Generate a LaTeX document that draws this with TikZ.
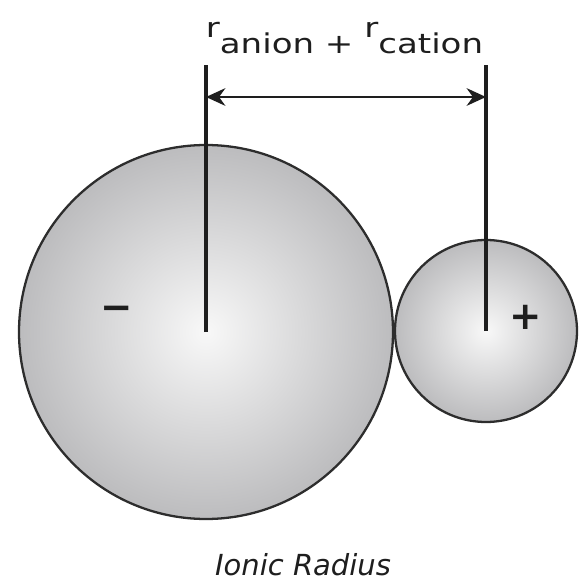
\documentclass[tikz,border=0pt]{standalone}
\usepackage{fontspec}
\setmainfont{DejaVu Sans}
\newfontfamily\widefont[FakeStretch=1.25]{DejaVu Sans}
\usepackage{tikz}
\usetikzlibrary{arrows.meta,positioning,calc}
\usepackage{xcolor}
\definecolor{cEdge}{RGB}{45,45,45}
\definecolor{cInner}{RGB}{248,248,248}
\definecolor{cOuter}{RGB}{188,188,190}
\definecolor{cInk}{RGB}{30,30,30}
\tikzset{
  ionball/.style={circle,draw=cEdge,line width=1.3pt,inner sep=0pt,
                  shading=radial,inner color=cInner,outer color=cOuter},
  radline/.style={line width=1.8pt,color=cInk},
  dimarr/.style={{Stealth[length=11pt,width=10pt]}-{Stealth[length=11pt,width=10pt]},
                 line width=1.5pt,color=cInk},
  chargelbl/.style={font=\bfseries\fontsize{22}{22}\selectfont,text=cInk,inner sep=0pt},
  sumlbl/.style={font=\widefont\fontsize{15.5}{16}\selectfont,text=cInk,inner sep=0pt},
  capt/.style={font=\itshape\fontsize{16.5}{17}\selectfont,text=cInk,inner sep=0pt}
}

\begin{document}
\begin{tikzpicture}
  \useasboundingbox (0,0) rectangle (11.58,11.62);

  % ions
  \node[ionball,minimum size=7.48cm] (anion) at (4.12,4.98) {};
  \node[ionball,minimum size=3.64cm] (cation) at (9.72,5.0) {};

  \node[chargelbl] (minus) at (2.33,5.36) {−};
  \node[chargelbl] (plus) at (10.52,5.28) {+};

  % radii
  \coordinate (anionTop) at ($(anion.center)+(0,5.34)$);
  \coordinate (cationTop) at (cation.center |- anionTop);
  \draw[radline] (anion.center) -- (anionTop);
  \draw[radline] (cation.center) -- (cationTop);

  \coordinate (dimL) at ($(anion.center)+(0,4.7)$);
  \coordinate (dimR) at (cation.center |- dimL);
  \draw[dimarr] (dimL) -- (dimR);

  \node[sumlbl] (sum) at (6.89,10.86)
      {\raisebox{1.1ex}{r}anion + \raisebox{1.1ex}{r}cation};

  \node[capt,anchor=base] (title) at (6.06,0.1) {Ionic Radius};

\end{tikzpicture}
\end{document}
